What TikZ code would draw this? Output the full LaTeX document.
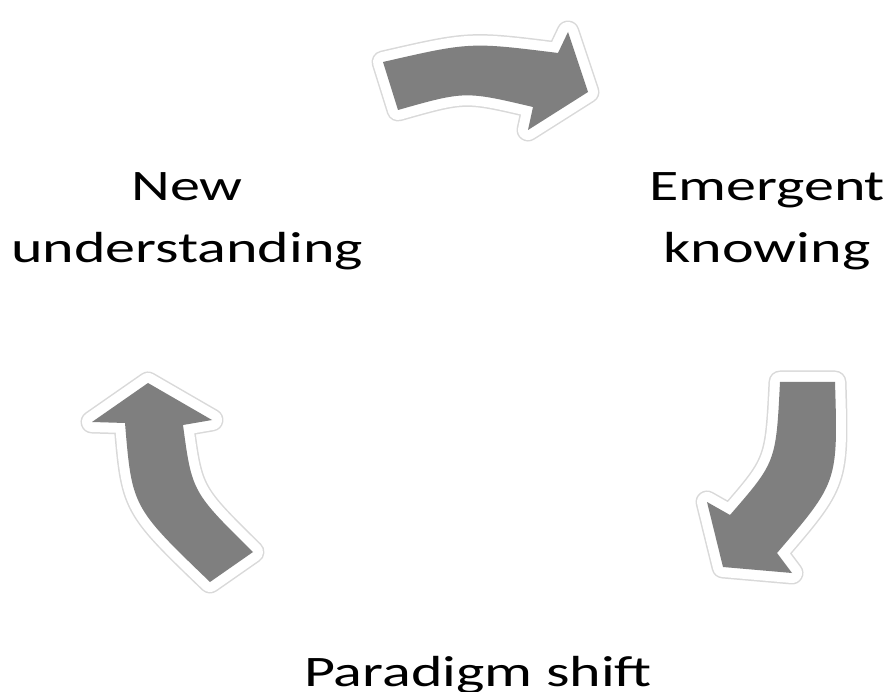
\documentclass[tikz,border=0pt]{standalone}
\usepackage{fontspec}
\newfontfamily\labelfont[FakeStretch=1.38]{Carlito}
\definecolor{arrowgray}{RGB}{127,127,127}
\tikzset{
  cyclearrow/.style={fill=arrowgray,
    preaction={draw=gray!30, line width=23pt, line join=round},
    preaction={draw=white, line width=20pt, line join=round}},
  phase/.style={font=\labelfont\fontsize{43.5}{62}\selectfont, align=center,
    inner sep=0pt, anchor=base}
}
\begin{document}
\begin{tikzpicture}[x=1pt,y=-1pt]
  \useasboundingbox (0,0) rectangle (889,692);
  % top arrow
  \fill[cyclearrow] (383,62) .. controls (470,42) .. (558,53) -- (568,32) -- (588,92)
    -- (528,130) -- (533,107) .. controls (465,91) .. (398,110) -- cycle;
  % right arrow
  \fill[cyclearrow] (780,382) -- (835,382) .. controls (838,482) .. (777,553) -- (792,573)
    -- (723,567) -- (707,502) -- (730,515) .. controls (776,462) .. cycle;
  % left arrow
  \fill[cyclearrow] (148,383) -- (212,420) -- (183,425) .. controls (192,492) .. (253,552)
    -- (210,582) .. controls (132,507) .. (125,423) -- (92,422) -- cycle;
  % labels
  \node[phase] (new) at (187,263) {New\\understanding};
  \node[phase] (emergent) at (767,263) {Emergent\\knowing};
  \node[phase] (shift) at (478,686) {Paradigm shift};
\end{tikzpicture}
\end{document}
